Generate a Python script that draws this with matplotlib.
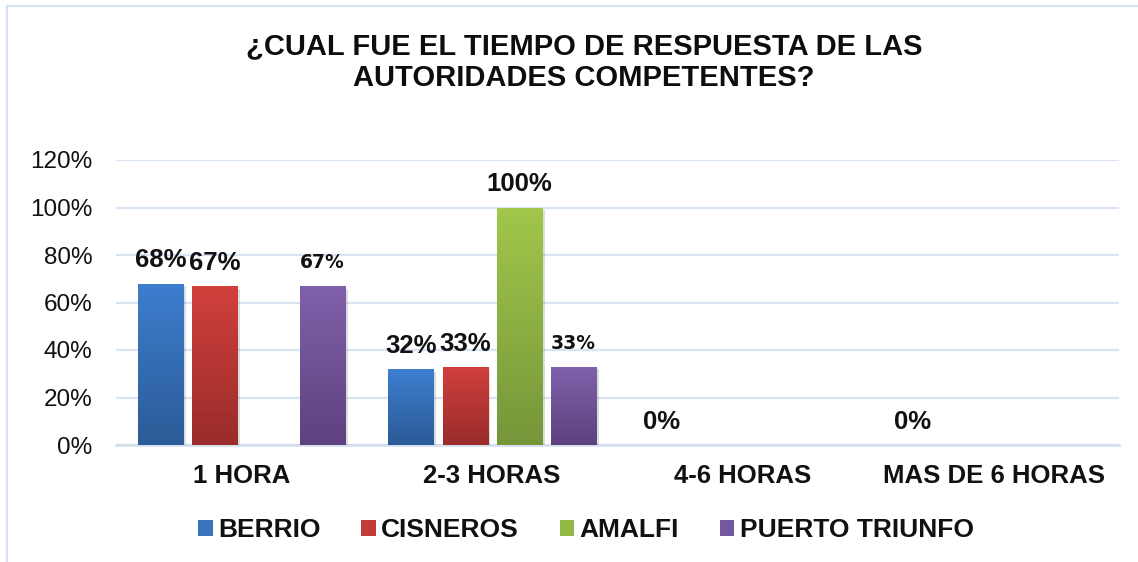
import numpy as np
import matplotlib
matplotlib.use("Agg")
import matplotlib.pyplot as plt
from matplotlib.patches import Patch
from matplotlib.lines import Line2D
from matplotlib.colors import LinearSegmentedColormap
import matplotlib.patheffects as pe
from matplotlib.ticker import FuncFormatter

title = "¿CUAL FUE EL TIEMPO DE RESPUESTA DE LAS\nAUTORIDADES COMPETENTES?"
categories = ["1 HORA", "2-3 HORAS", "4-6 HORAS", "MAS DE 6 HORAS"]
series_names = ["BERRIO", "CISNEROS", "AMALFI", "PUERTO TRIUNFO"]
berrio = [0.68, 0.32, 0.0, 0.0]
cisneros = [0.67, 0.33, np.nan, np.nan]
amalfi = [np.nan, 1.00, np.nan, np.nan]
puerto_triunfo = [0.67, 0.33, np.nan, np.nan]
series_values = [berrio, cisneros, amalfi, puerto_triunfo]
y_ticks = [0, 0.2, 0.4, 0.6, 0.8, 1.0, 1.2]

top_colors = ["#3D7ECF", "#D1403D", "#A2C74B", "#8061AB"]
bottom_colors = ["#2B5B97", "#992C2A", "#76963A", "#5E417F"]
mid_colors = ["#3A74BC", "#C23B38", "#93B844", "#74589E"]

plt.rcParams['font.family'] = ['Liberation Sans', 'DejaVu Sans']

W, H = 1138, 562
fig = plt.figure(figsize=(W / 100, H / 100), dpi=100)
ax = fig.add_axes([116 / W, 1 - 445 / H, (1119 - 116) / W, (445 - 160) / H])

x = np.arange(len(categories))
step = 0.2156
width = 0.18
offsets = (np.arange(len(series_names)) - 1.5) * step

ax.set_xlim(-0.5, len(categories) - 0.5)
ax.set_ylim(0, 1.2)

for i, (name, vals) in enumerate(zip(series_names, series_values)):
    v = np.array(vals, dtype=float)
    bars = ax.bar(x + offsets[i], np.nan_to_num(v), width, color=mid_colors[i],
                  zorder=3, linewidth=0)
    cmap = LinearSegmentedColormap.from_list(f"g{i}", [bottom_colors[i], top_colors[i]])
    grad = np.linspace(0, 1, 256).reshape(-1, 1)
    for b, val in zip(bars, v):
        if np.isnan(val) or val <= 0:
            continue
        b.set_path_effects([pe.SimplePatchShadow(offset=(2, -2), alpha=0.25, shadow_rgbFace='#777777'),
                            pe.Normal()])
        bx0, by0 = b.get_x(), b.get_y()
        bw, bh = b.get_width(), b.get_height()
        im = ax.imshow(grad, extent=[bx0, bx0 + bw, by0, by0 + bh], origin='lower',
                       aspect='auto', cmap=cmap, zorder=3.5, interpolation='bilinear')
        im.set_clip_path(b)
    for xi, val in zip(x + offsets[i], v):
        if np.isnan(val):
            continue
        label = f"{val * 100:.0f}%"
        if name == "PUERTO TRIUNFO":
            ax.annotate(label, (xi, val), xytext=(0, 10), textcoords='offset points',
                        ha='center', va='bottom', fontsize=13.5, fontweight='bold',
                        family=['DejaVu Sans'], color='#111111', zorder=5)
        else:
            ax.annotate(label, (xi, val), xytext=(0, 8), textcoords='offset points',
                        ha='center', va='bottom', fontsize=18.5, fontweight='bold',
                        color='#111111', zorder=5)

ax.set_xlim(-0.5, len(categories) - 0.5)
ax.set_ylim(0, 1.2)
ax.set_yticks(y_ticks)
ax.yaxis.set_major_formatter(FuncFormatter(lambda v, p: f"{v * 100:.0f}%"))
ax.set_xticks(x)
ax.set_xticklabels(categories, fontsize=18.5, fontweight='bold', color='#111111')
ax.tick_params(axis='x', length=0, pad=14)
ax.tick_params(axis='y', length=0, pad=17, labelsize=17.5, labelcolor='#111111')
ax.grid(axis='y', color='#D9E3F2', linewidth=1.6, zorder=0)
ax.set_axisbelow(True)
for s in ['top', 'right', 'left']:
    ax.spines[s].set_visible(False)
ax.spines['bottom'].set_color('#D2DDEE')
ax.spines['bottom'].set_linewidth(1.8)
ax.spines['bottom'].set_zorder(2)

fig.text(584 / W, 1 - 62 / H, title, ha='center', va='center', fontsize=21,
         fontweight='bold', color='#0d0d0d', linespacing=1.15)

handles = [Patch(facecolor=mid_colors[i], edgecolor='none') for i in range(len(series_names))]
leg = fig.legend(handles, series_names, loc='center', bbox_to_anchor=(586 / W, 1 - 530 / H),
                 ncol=4, frameon=False, handlelength=0.55, handleheight=0.55,
                 handletextpad=0.2, columnspacing=1.55,
                 prop={'family': ['Liberation Sans'], 'weight': 'bold', 'size': 19})
for t in leg.get_texts():
    t.set_color('#111111')

# chart area frame (left and top edges visible)
fig.add_artist(Line2D([7 / W, 7 / W], [0, 1 - 6 / H], transform=fig.transFigure,
                      color='#D6E2F3', linewidth=1.5))
fig.add_artist(Line2D([7 / W, 1.0], [1 - 6 / H, 1 - 6 / H], transform=fig.transFigure,
                      color='#D6E2F3', linewidth=1.5))

fig.savefig("out.png", dpi=100)
